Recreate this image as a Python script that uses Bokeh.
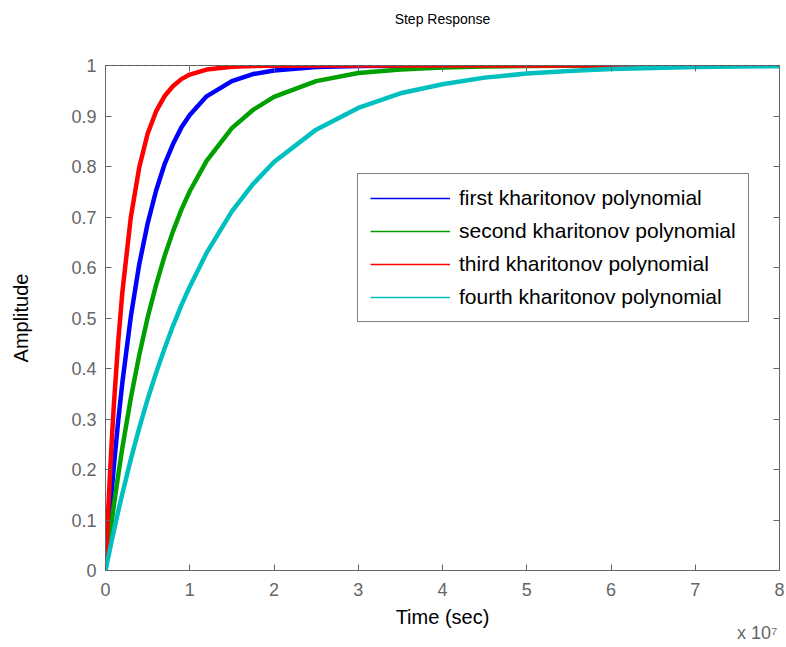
from bokeh.plotting import figure
from bokeh.models import (LinearAxis, FixedTicker, Legend, LegendItem,
                          Range1d, Span, Title)
from bokeh.embed import file_html
from bokeh.resources import INLINE

# time in units of 1e7 s
t = [0, 0.025, 0.05, 0.075, 0.1, 0.15, 0.2, 0.3, 0.4, 0.5, 0.6, 0.7, 0.8, 0.9,
     1.0, 1.2, 1.5, 1.75, 2.0, 2.5, 3.0, 3.5, 4.0, 4.5, 5.0, 5.5, 6.0, 6.5,
     7.0, 7.5, 8.0]

first = [0, 0.056, 0.110, 0.160, 0.208, 0.295, 0.372, 0.502, 0.606, 0.687,
         0.752, 0.804, 0.844, 0.877, 0.902, 0.939, 0.969, 0.983, 0.990, 0.997,
         0.999, 0.9997, 0.9999, 1, 1, 1, 1, 1, 1, 1, 1]
second = [0, 0.034, 0.067, 0.099, 0.130, 0.188, 0.243, 0.341, 0.426, 0.501,
          0.565, 0.622, 0.671, 0.714, 0.751, 0.811, 0.876, 0.912, 0.938, 0.969,
          0.985, 0.992, 0.996, 0.998, 0.999, 0.9996, 0.9998, 0.9999, 1, 1, 1]
third = [0, 0.095, 0.181, 0.259, 0.330, 0.451, 0.551, 0.699, 0.798, 0.865,
         0.909, 0.939, 0.959, 0.973, 0.982, 0.992, 0.9975, 0.9991, 0.9997, 1,
         1, 1, 1, 1, 1, 1, 1, 1, 1, 1, 1]
fourth = [0, 0.020, 0.040, 0.060, 0.079, 0.117, 0.152, 0.220, 0.282, 0.339,
          0.391, 0.439, 0.484, 0.525, 0.562, 0.629, 0.711, 0.765, 0.809, 0.873,
          0.916, 0.945, 0.963, 0.976, 0.984, 0.989, 0.993, 0.995, 0.997, 0.998,
          0.9987]

series_names = ["first kharitonov polynomial", "second kharitonov polynomial",
                "third kharitonov polynomial", "fourth kharitonov polynomial"]
colors = ["#0000FF", "#00A000", "#FF0000", "#00BFBF"]

x_ticks = [0, 1, 2, 3, 4, 5, 6, 7, 8]
y_ticks = [0, 0.1, 0.2, 0.3, 0.4, 0.5, 0.6, 0.7, 0.8, 0.9, 1]
y_tick_labels = ["0", "0.1", "0.2", "0.3", "0.4", "0.5", "0.6", "0.7", "0.8", "0.9", "1"]
final_value = 1
chart_title = "Step Response"

FONT = "Liberation Sans"
AXC = "#666666"

p = figure(width=784, height=647, output_backend="svg", toolbar_location=None,
           x_range=Range1d(0, 8), y_range=Range1d(0, 1),
           min_border_left=105, min_border_right=5, min_border_top=65,
           min_border_bottom=77)
p.xgrid.visible = False
p.ygrid.visible = False
p.outline_line_color = AXC
p.outline_line_width = 1
p.background_fill_color = "white"
p.border_fill_color = "white"


def style_axis(ax, ticks, show_labels):
    ax.ticker = FixedTicker(ticks=ticks)
    ax.major_tick_in = 6
    ax.major_tick_out = 0
    ax.minor_tick_line_color = None
    ax.major_tick_line_color = AXC
    ax.axis_line_color = AXC
    ax.major_label_text_font = FONT
    ax.major_label_text_color = AXC
    if not show_labels:
        ax.major_label_text_font_size = "0px"
        ax.major_label_standoff = 0
    else:
        ax.major_label_text_font_size = "18px"


xa = p.xaxis[0]
style_axis(xa, x_ticks, True)
xa.major_label_standoff = 12
xa.axis_label = "Time (sec)"
xa.axis_label_text_font = FONT
xa.axis_label_text_font_size = "20px"
xa.axis_label_text_font_style = "normal"
xa.axis_label_text_color = "black"
xa.axis_label_standoff = 7

ya = p.yaxis[0]
style_axis(ya, y_ticks, True)
ya.major_label_overrides = {v: s for v, s in zip(y_ticks, y_tick_labels)}
ya.major_label_standoff = 9
ya.axis_label = "Amplitude"
ya.axis_label_text_font = FONT
ya.axis_label_text_font_size = "20px"
ya.axis_label_text_font_style = "normal"
ya.axis_label_text_color = "black"
ya.axis_label_standoff = 36

# top axis: mirror ticks, and the chart title as its label
top = LinearAxis()
style_axis(top, x_ticks, False)
top.axis_label = chart_title
top.axis_label_text_font = FONT
top.axis_label_text_font_size = "14px"
top.axis_label_text_font_style = "normal"
top.axis_label_text_color = "black"
top.axis_label_standoff = 39
p.add_layout(top, "above")

right = LinearAxis()
style_axis(right, y_ticks, False)
p.add_layout(right, "right")

# exponent note for the time axis
p.add_layout(Title(text="x 10\u2077", align="right", offset=2, text_font=FONT,
                   text_font_size="18px", text_font_style="normal",
                   text_color=AXC, standoff=-20), "below")

series = [first, second, third, fourth]
thin = [p.line(t, s, line_color=c, line_width=1.5) for s, c in zip(series, colors)]
for s, c in zip(series, colors):
    p.line(t, s, line_color=c, line_width=4.5)

# steady-state dotted line
p.add_layout(Span(location=final_value, dimension="width", line_color="black",
                  line_width=1, line_dash="1 7", level="overlay"))

legend = Legend(items=[LegendItem(label=n, renderers=[r]) for n, r in zip(series_names, thin)],
                location=(252, 248))
legend.border_line_color = "black"
legend.border_line_width = 1
legend.background_fill_color = "white"
legend.background_fill_alpha = 1
legend.label_text_font = FONT
legend.label_text_font_size = "21px"
legend.label_text_color = "black"
legend.glyph_width = 80
legend.glyph_height = 14
legend.label_height = 14
legend.label_standoff = 9
legend.padding = 12
legend.spacing = 9
legend.margin = 0
p.add_layout(legend)

open("out.html", "w").write(file_html(p, INLINE))
